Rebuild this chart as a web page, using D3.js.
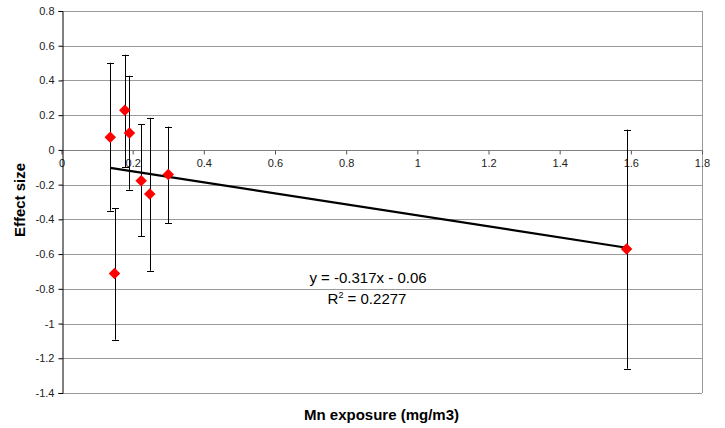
<!DOCTYPE html>
<html>
<head>
<meta charset="utf-8">
<script src="https://cdn.jsdelivr.net/npm/d3@7/dist/d3.min.js"></script>
<style>
  body { margin: 0; background: #fff; }
  svg { font-family: Arial, 'Liberation Sans', sans-serif; }
</style>
</head>
<body>
<script>
const outerWidth = 725
const outerHeight = 428
const margins = { top: 11, right: 23, bottom: 35, left: 61.5 }

// Mn exposure per study, effect size, error bar ends
const exposure = [0.137, 0.178, 0.191, 0.224, 0.248, 0.300, 0.149, 1.588]
const effect = [0.073, 0.229, 0.098, -0.177, -0.254, -0.142, -0.712, -0.571]
const upper = [0.502, 0.548, 0.427, 0.148, 0.185, 0.134, -0.335, 0.117]
const lower = [-0.350, -0.100, -0.229, -0.498, -0.696, -0.421, -1.093, -1.260]

const xTicks = [0, 0.2, 0.4, 0.6, 0.8, 1, 1.2, 1.4, 1.6, 1.8]
const yTicks = [0.8, 0.6, 0.4, 0.2, 0, -0.2, -0.4, -0.6, -0.8, -1, -1.2, -1.4]

const slope = -0.317
const intercept = -0.06
const eqText = 'y = -0.317x - 0.06'
const r2Text = '0.2277'

const data = exposure.map((x, i) => ({ x, y: effect[i], hi: upper[i], lo: lower[i] }))

// plain hyphen minus, like the original
const fmt = d => String(+d.toFixed(1))

const svg = d3.select('body').append('svg')
  .attr('width', outerWidth)
  .attr('height', outerHeight)

const xScale = d3.scaleLinear()
  .domain([0, 1.8])
  .range([margins.left, outerWidth - margins.right])
const yScale = d3.scaleLinear()
  .domain([-1.4, 0.8])
  .range([outerHeight - margins.bottom, margins.top])

// gridlines
svg.append('g')
  .selectAll('line')
  .data(yTicks)
  .enter()
  .append('line')
  .attr('x1', xScale(0))
  .attr('x2', xScale(1.8))
  .attr('y1', d => Math.round(yScale(d)) + 0.5)
  .attr('y2', d => Math.round(yScale(d)) + 0.5)
  .attr('stroke', d => d === 0 ? '#808080' : '#9a9a9a')
  .attr('stroke-width', 1)

// right border
svg.append('line')
  .attr('x1', Math.round(xScale(1.8)) + 0.5)
  .attr('x2', Math.round(xScale(1.8)) + 0.5)
  .attr('y1', yScale(0.8))
  .attr('y2', yScale(-1.4))
  .attr('stroke', '#9a9a9a')

// x axis on zero line
const xAxis = d3.axisBottom(xScale)
  .tickValues(xTicks)
  .tickSize(4)
  .tickFormat(fmt)
svg.append('g')
  .attr('transform', `translate(0,${Math.round(yScale(0)) + 0.5})`)
  .call(xAxis)
  .call(g => g.select('.domain').remove())
  .call(g => g.selectAll('line').attr('stroke', '#555'))
  .call(g => g.selectAll('text')
    .attr('font-size', 11)
    .attr('font-family', 'Arial, "Liberation Sans", sans-serif')
    .attr('fill', '#222')
    .attr('dy', '0.9em'))

// y axis
const yAxis = d3.axisLeft(yScale)
  .tickValues(yTicks)
  .tickSize(4)
  .tickFormat(fmt)
svg.append('g')
  .attr('transform', `translate(${Math.round(xScale(0)) + 0.5},0)`)
  .call(yAxis)
  .call(g => g.select('.domain').attr('stroke', '#000'))
  .call(g => g.selectAll('text')
    .attr('font-size', 11)
    .attr('font-family', 'Arial, "Liberation Sans", sans-serif')
    .attr('fill', '#222')
    .attr('x', -8))

// error bars
const bars = svg.append('g')
  .selectAll('g')
  .data(data)
  .enter()
  .append('g')
  .attr('stroke', '#000')
  .attr('stroke-width', 1)
bars.append('line')
  .attr('x1', d => Math.round(xScale(d.x)) + 0.5)
  .attr('x2', d => Math.round(xScale(d.x)) + 0.5)
  .attr('y1', d => yScale(d.hi))
  .attr('y2', d => yScale(d.lo))
bars.append('line')
  .attr('x1', d => Math.round(xScale(d.x)) - 3)
  .attr('x2', d => Math.round(xScale(d.x)) + 4)
  .attr('y1', d => Math.round(yScale(d.hi)) + 0.5)
  .attr('y2', d => Math.round(yScale(d.hi)) + 0.5)
bars.append('line')
  .attr('x1', d => Math.round(xScale(d.x)) - 3)
  .attr('x2', d => Math.round(xScale(d.x)) + 4)
  .attr('y1', d => Math.round(yScale(d.lo)) + 0.5)
  .attr('y2', d => Math.round(yScale(d.lo)) + 0.5)

// trend line
const xExt = d3.extent(exposure)
svg.append('line')
  .attr('x1', xScale(xExt[0]))
  .attr('x2', xScale(xExt[1]))
  .attr('y1', yScale(slope * xExt[0] + intercept))
  .attr('y2', yScale(slope * xExt[1] + intercept))
  .attr('stroke', '#000')
  .attr('stroke-width', 2.2)

// markers
svg.append('g')
  .selectAll('path')
  .data(data)
  .enter()
  .append('path')
  .attr('d', d3.symbol().type(d3.symbolSquare).size(66))
  .attr('transform', d => `translate(${xScale(d.x)},${yScale(d.y)}) rotate(45)`)
  .attr('fill', '#ff0000')

// equation
svg.append('text')
  .attr('x', 368)
  .attr('y', 283)
  .attr('text-anchor', 'middle')
  .attr('font-size', 15)
  .attr('fill', '#000')
  .text(eqText)
const r2 = svg.append('text')
  .attr('x', 367)
  .attr('y', 304)
  .attr('text-anchor', 'middle')
  .attr('font-size', 15)
  .attr('fill', '#000')
r2.append('tspan').text('R')
r2.append('tspan').attr('font-size', 9).attr('dy', -6).text('2')
r2.append('tspan').attr('dy', 6).text(' = ' + r2Text)

// axis titles
svg.append('text')
  .attr('x', 381.5)
  .attr('y', 420)
  .attr('text-anchor', 'middle')
  .attr('font-size', 15)
  .attr('font-weight', 'bold')
  .text('Mn exposure (mg/m3)')
svg.append('text')
  .attr('transform', 'translate(25,200) rotate(-90)')
  .attr('text-anchor', 'middle')
  .attr('font-size', 15)
  .attr('font-weight', 'bold')
  .text('Effect size')
</script>
</body>
</html>
